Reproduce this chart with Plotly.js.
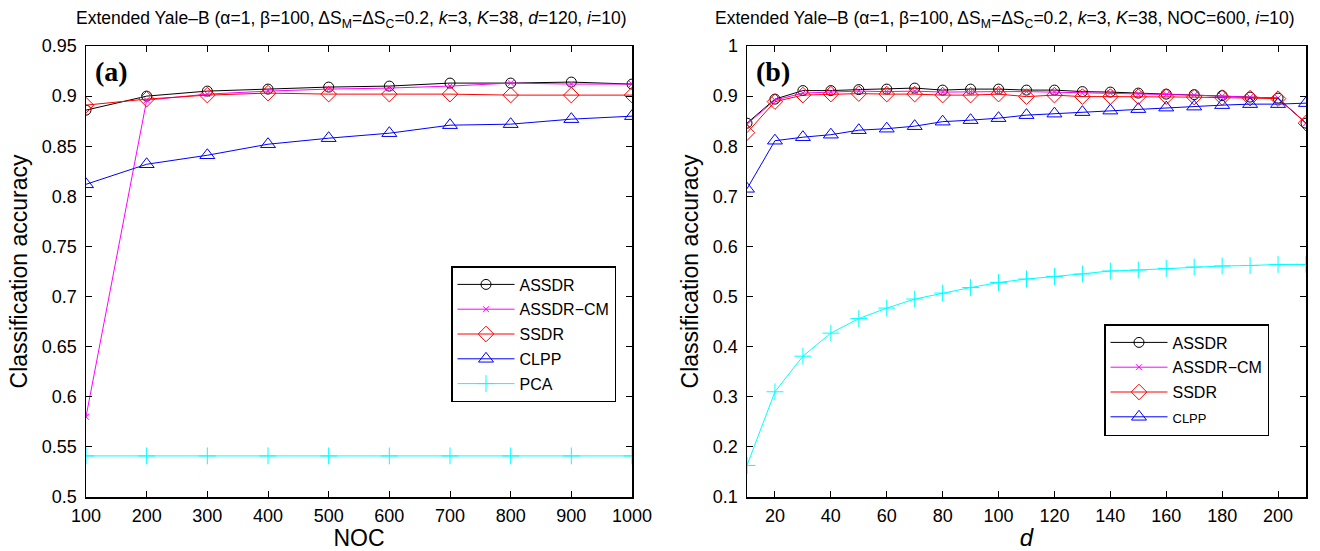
<!DOCTYPE html>
<html>
<head>
<meta charset="utf-8">
<script src="https://cdn.plot.ly/plotly-3.0.1.min.js"></script>
<style>html,body{margin:0;padding:0;background:#fff;}#chart{width:1320px;height:551px;}</style>
</head>
<body>
<div id="chart"></div>
<script>
// ---- Panel (a): accuracy vs NOC ----
const nocValues = [100, 200, 300, 400, 500, 600, 700, 800, 900, 1000];
const aASSDR   = [0.886, 0.900, 0.905, 0.907, 0.909, 0.910, 0.913, 0.913, 0.914, 0.912];
const aASSDRCM = [0.580, 0.896, 0.902, 0.905, 0.907, 0.908, 0.910, 0.913, 0.912, 0.912];
const aSSDR    = [0.891, 0.897, 0.901, 0.903, 0.902, 0.902, 0.902, 0.901, 0.901, 0.901];
const aCLPP    = [0.812, 0.832, 0.841, 0.852, 0.858, 0.863, 0.871, 0.872, 0.877, 0.880];
const aPCA     = [0.541, 0.541, 0.541, 0.541, 0.541, 0.541, 0.541, 0.541, 0.541, 0.541];

// ---- Panel (b): accuracy vs d ----
const dValues  = [10, 20, 30, 40, 50, 60, 70, 80, 90, 100, 110, 120, 130, 140, 150, 160, 170, 180, 190, 200, 210];
const bASSDR   = [0.846, 0.894, 0.911, 0.911, 0.913, 0.914, 0.916, 0.912, 0.914, 0.914, 0.912, 0.912, 0.909, 0.908, 0.906, 0.904, 0.903, 0.901, 0.898, 0.896, 0.846];
const bASSDRCM = [0.844, 0.892, 0.906, 0.908, 0.910, 0.909, 0.910, 0.908, 0.909, 0.909, 0.909, 0.908, 0.906, 0.906, 0.904, 0.903, 0.902, 0.900, 0.898, 0.896, 0.846];
const bSSDR    = [0.827, 0.889, 0.902, 0.904, 0.905, 0.904, 0.904, 0.902, 0.902, 0.904, 0.899, 0.902, 0.899, 0.899, 0.899, 0.899, 0.898, 0.897, 0.896, 0.895, 0.846];
const bCLPP    = [0.715, 0.811, 0.818, 0.823, 0.832, 0.835, 0.840, 0.849, 0.852, 0.856, 0.862, 0.865, 0.868, 0.871, 0.874, 0.877, 0.879, 0.882, 0.884, 0.884, 0.886];
const bPCA     = [0.163, 0.310, 0.381, 0.427, 0.456, 0.477, 0.495, 0.507, 0.518, 0.528, 0.535, 0.540, 0.545, 0.551, 0.553, 0.556, 0.559, 0.561, 0.562, 0.564, 0.564];

const seriesNames = ['ASSDR', 'ASSDR\u2212CM', 'SSDR', 'CLPP', 'PCA'];
const styles = [
  {color: '#000000', symbol: 'circle-open', size: 10},
  {color: '#ff00ff', symbol: 'x-thin', size: 6},
  {color: '#ff0000', symbol: 'diamond-open', size: 12},
  {color: '#0000ff', symbol: 'triangle-up-open', size: 13},
  {color: '#00ffff', symbol: 'cross-thin', size: 12}
];

function mk(x, y, i, xa, ya, leg, show, nameOverride) {
  const s = styles[i];
  return {
    x: x, y: y, xaxis: xa, yaxis: ya, type: 'scatter', mode: 'lines+markers',
    name: nameOverride || seriesNames[i], legend: leg, showlegend: show,
    legendgroup: leg + '_' + i,
    line: {color: s.color, width: 1},
    marker: {symbol: s.symbol, size: s.size, color: s.color, line: {color: s.color, width: 1}}
  };
}

const aSeries = [aASSDR, aASSDRCM, aSSDR, aCLPP, aPCA];
const bSeries = [bASSDR, bASSDRCM, bSSDR, bCLPP, bPCA];
const traces = [];
aSeries.forEach((ys, i) => traces.push(mk(nocValues, ys, i, 'x', 'y', 'legend', true)));
bSeries.forEach((ys, i) => traces.push(mk(dValues, ys, i, 'x2', 'y2', 'legend2', i < 4,
  i === 3 ? '<span style="font-size:13px">CLPP</span>' : null)));

const FONT = 'Liberation Sans, Arial, sans-serif';
const axisCommon = {
  showline: true, linecolor: '#000', linewidth: 1.5, mirror: 'ticks',
  ticks: 'inside', ticklen: 6, tickwidth: 1, tickcolor: '#000',
  showgrid: false, zeroline: false,
  tickfont: {family: FONT, size: 18, color: '#000'}
};

const layout = {
  width: 1320, height: 551,
  margin: {l: 0, r: 0, t: 0, b: 0},
  paper_bgcolor: '#fff', plot_bgcolor: '#fff',
  font: {family: FONT, color: '#000'},
  xaxis: Object.assign({}, axisCommon, {
    domain: [86/1320, 632/1320], range: [100, 1000], tickvals: nocValues,
    ticklabelstandoff: 2,
    title: {text: 'NOC', font: {family: FONT, size: 23}, standoff: 6}
  }),
  yaxis: Object.assign({}, axisCommon, {
    domain: [54/551, 505/551], range: [0.5, 0.95], dtick: 0.05, tick0: 0.5,
    ticklabelstandoff: 4,
    title: {text: 'Classification accuracy', font: {family: FONT, size: 23}, standoff: 8}
  }),
  xaxis2: Object.assign({}, axisCommon, {
    anchor: 'y2', domain: [747/1320, 1306/1320], range: [10, 210],
    tickvals: [20, 40, 60, 80, 100, 120, 140, 160, 180, 200],
    ticklabelstandoff: 2,
    title: {text: '<i>d</i>', font: {family: FONT, size: 24}, standoff: 4}
  }),
  yaxis2: Object.assign({}, axisCommon, {
    anchor: 'x2', domain: [54/551, 505/551], range: [0.1, 1], dtick: 0.1, tick0: 0.1,
    ticklabelstandoff: 4,
    title: {text: 'Classification accuracy', font: {family: FONT, size: 23}, standoff: 8}
  }),
  legend: {
    x: 451/1320, y: 1 - 266/551, xanchor: 'left', yanchor: 'top',
    bgcolor: '#fff', bordercolor: '#000', borderwidth: 1.5, itemwidth: 57,
    font: {family: FONT, size: 16, color: '#000'}, tracegroupgap: 1
  },
  legend2: {
    x: 1104/1320, y: 1 - 324/551, xanchor: 'left', yanchor: 'top',
    bgcolor: '#fff', bordercolor: '#000', borderwidth: 1.5, itemwidth: 57,
    font: {family: FONT, size: 16, color: '#000'}, tracegroupgap: 1
  },
  annotations: [
    {xref: 'paper', yref: 'paper', x: 351/1320, y: 1 - 20/551, xanchor: 'center', yanchor: 'middle', showarrow: false,
     text: 'Extended Yale\u2013B (\u03b1=1, \u03b2=100, \u0394S<sub>M</sub>=\u0394S<sub>C</sub>=0.2, <i>k</i>=3, <i>K</i>=38, <i>d</i>=120, <i>i</i>=10)',
     font: {family: FONT, size: 17.5, color: '#000'}},
    {xref: 'paper', yref: 'paper', x: 1005/1320, y: 1 - 20/551, xanchor: 'center', yanchor: 'middle', showarrow: false,
     text: 'Extended Yale\u2013B (\u03b1=1, \u03b2=100, \u0394S<sub>M</sub>=\u0394S<sub>C</sub>=0.2, <i>k</i>=3, <i>K</i>=38, NOC=600, <i>i</i>=10)',
     font: {family: FONT, size: 17.5, color: '#000'}},
    {xref: 'paper', yref: 'paper', x: 93/1320, y: 1 - 54/551, xanchor: 'left', yanchor: 'top', showarrow: false,
     text: '<b>(a)</b>', font: {family: 'Liberation Serif, Times New Roman, serif', size: 28, color: '#000'}},
    {xref: 'paper', yref: 'paper', x: 754/1320, y: 1 - 54/551, xanchor: 'left', yanchor: 'top', showarrow: false,
     text: '<b>(b)</b>', font: {family: 'Liberation Serif, Times New Roman, serif', size: 28, color: '#000'}}
  ]
};

Plotly.newPlot('chart', traces, layout, {displayModeBar: false, staticPlot: true});
</script>
</body>
</html>
